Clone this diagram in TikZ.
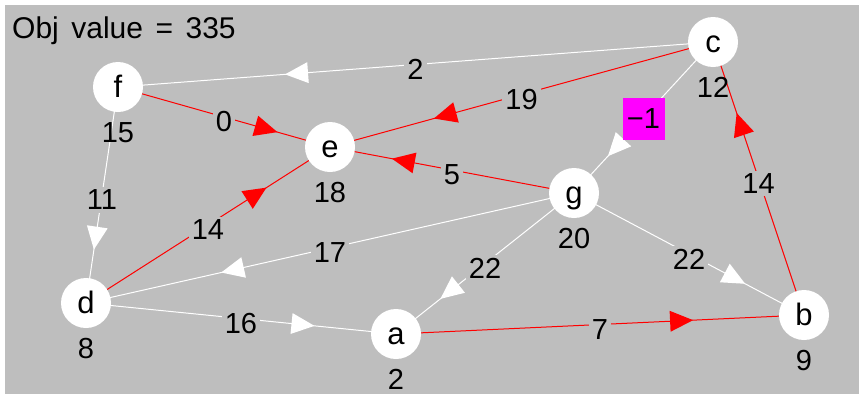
\documentclass[tikz,border=0pt]{standalone}
\usepackage{fontspec}
\setmainfont{Liberation Sans}
\newfontfamily\objfont[WordSpace=1.5]{Liberation Sans}
\usetikzlibrary{decorations.markings}
\definecolor{bggray}{RGB}{190,190,190}
\definecolor{flowred}{RGB}{255,0,0}
\definecolor{potmag}{RGB}{255,0,255}
\pgfdeclarelayer{bglayer}
\pgfdeclarelayer{edgelayer}
\pgfsetlayers{bglayer,edgelayer,main}
\begin{document}
\begin{tikzpicture}[x=1pt,y=-1pt,
  font=\fontsize{29}{34}\selectfont,
  vtx/.style={circle,fill=white,minimum size=50pt,inner sep=0pt,text height=20pt,text depth=0pt,font=\fontsize{31}{36}\selectfont},
  pot/.style={label={[inner sep=0pt,label distance=10pt,font=\fontsize{29}{34}\selectfont]below:#1}},
  arc/.style={draw=#1,line width=1pt,postaction={decorate},
    decoration={markings,mark=at position 0.7 with {\fill[#1] (11.5pt,0pt) -- (-11.5pt,10.5pt) -- (-11.5pt,-10.5pt) -- cycle;}}},
  lab/.style={fill=bggray,inner sep=3pt,yshift=-5pt,midway},
  redlab/.style={fill=potmag,inner sep=0pt,minimum size=42pt,yshift=-1.5pt,midway}
]
\useasboundingbox (0,0) rectangle (859,394);
\begin{pgfonlayer}{bglayer}
\fill[bggray] (5,5) rectangle (859,394);
\end{pgfonlayer}
\node[anchor=base west,inner sep=0pt] (obj) at (12,38) {\objfont\fontsize{30}{35}\selectfont Obj value = 335};
\node[vtx,pot=12] (c) at (713,42) {c};
\node[vtx,pot=15] (f) at (118,87) {f};
\node[vtx,pot=18] (e) at (330,147) {e};
\node[vtx,pot=20] (g) at (574,193) {g};
\node[vtx,pot=8]  (d) at (86,303) {d};
\node[vtx,pot=2]  (a) at (396,334) {a};
\node[vtx,pot=9]  (b) at (804,315) {b};
\begin{pgfonlayer}{edgelayer}
\draw[arc=white] (c.center) -- (f.center) node[lab] {2};
\draw[arc=flowred] (f.center) -- (e.center) node[lab] {0};
\draw[arc=flowred] (c.center) -- (e.center) node[lab] {19};
\draw[arc=flowred] (g.center) -- (e.center) node[lab] {5};
\draw[arc=white] (c.center) -- (g.center) node[redlab] {−1};
\draw[arc=white] (f.center) -- (d.center) node[lab] {11};
\draw[arc=flowred] (d.center) -- (e.center) node[lab] {14};
\draw[arc=white] (g.center) -- (d.center) node[lab] {17};
\draw[arc=white] (d.center) -- (a.center) node[lab] {16};
\draw[arc=white] (g.center) -- (a.center) node[lab] {22};
\draw[arc=white] (g.center) -- (b.center) node[lab] {22};
\draw[arc=flowred] (a.center) -- (b.center) node[lab] {7};
\draw[arc=flowred] (b.center) -- (c.center) node[lab] {14};
\end{pgfonlayer}
\end{tikzpicture}
\end{document}
